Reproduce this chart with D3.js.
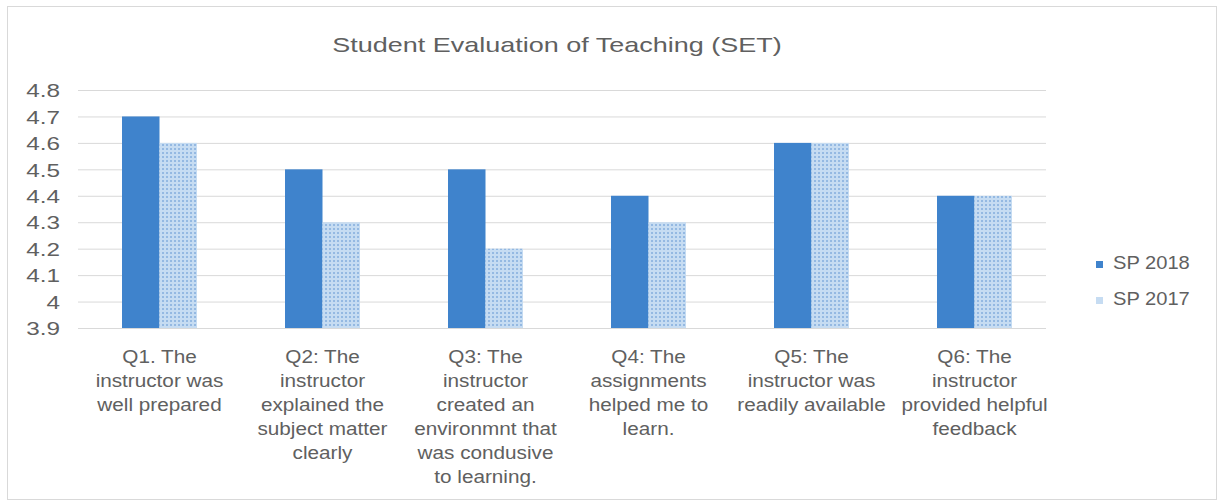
<!DOCTYPE html>
<html>
<head>
<meta charset="utf-8">
<script src="https://cdn.jsdelivr.net/npm/d3@7"></script>
<style>
  body { margin: 0; background: #fff; }
  svg { font-family: "Liberation Sans", Arial, sans-serif; }
</style>
</head>
<body>
<div id="chart"></div>
<script>
const questions = [
  ['Q1. The', 'instructor was', 'well prepared'],
  ['Q2: The', 'instructor', 'explained the', 'subject matter', 'clearly'],
  ['Q3: The', 'instructor', 'created an', 'environmnt that', 'was condusive', 'to learning.'],
  ['Q4: The', 'assignments', 'helped me to', 'learn.'],
  ['Q5: The', 'instructor was', 'readily available'],
  ['Q6: The', 'instructor', 'provided helpful', 'feedback']
]
const sp2018 = [4.7, 4.5, 4.5, 4.4, 4.6, 4.4]
const sp2017 = [4.6, 4.3, 4.2, 4.3, 4.6, 4.4]
const seriesNames = ['SP 2018', 'SP 2017']
const yTicks = [3.9, 4.0, 4.1, 4.2, 4.3, 4.4, 4.5, 4.6, 4.7, 4.8]

const w = 1220, h = 503
const padL = 78, padR = 1056, padT = 90, padB = 328
const textColor = '#606060'

const svg = d3.select('#chart').append('svg')
  .attr('width', w).attr('height', h)

// pattern for the dotted series
const defs = svg.append('defs')
const pat = defs.append('pattern')
  .attr('id', 'dots')
  .attr('width', 4).attr('height', 4)
  .attr('patternUnits', 'userSpaceOnUse')
pat.append('rect').attr('width', 4).attr('height', 4).attr('fill', '#c6dcf2')
pat.append('rect').attr('x', 0).attr('y', 0).attr('width', 2).attr('height', 2).attr('fill', '#94b9e2')

// outer frame
svg.append('rect')
  .attr('x', 7.5).attr('y', 6.5).attr('width', 1209).attr('height', 493)
  .attr('fill', 'none').attr('stroke', '#d9d9d9')

// the source picture is stretched sideways, so text gets a horizontal scale
svg.append('text')
  .attr('transform', 'translate(557,52) scale(1.35,1)')
  .attr('text-anchor', 'middle')
  .attr('font-size', 20)
  .attr('fill', textColor)
  .text('Student Evaluation of Teaching (SET)')

const x = d3.scaleBand()
  .domain(d3.range(questions.length))
  .range([padL, padR])
  .paddingInner(0.54)
  .paddingOuter(0.27)

const x1 = d3.scaleBand()
  .domain(seriesNames)
  .range([0, x.bandwidth()])

const y = d3.scaleLinear().domain([3.9, 4.8]).range([padB, padT])

// gridlines + y labels
const yAxis = d3.axisLeft(y)
  .tickValues(yTicks)
  .tickSize(-(padR - padL - 10))
  .tickPadding(18)
  .tickFormat(d => d3.format('.1f')(d).replace(/\.0$/, ''))

const ya = svg.append('g')
  .attr('transform', `translate(${padL},0)`)
  .call(yAxis)
ya.select('.domain').remove()
ya.selectAll('line').attr('stroke', '#d9d9d9')
ya.selectAll('text')
  .attr('font-size', 18)
  .attr('fill', textColor)
  .attr('x', 0)
  .attr('transform', 'translate(-18,1) scale(1.35,1)')

const colors = { 'SP 2018': '#3f83cc', 'SP 2017': 'url(#dots)' }
const data = questions.map((q, i) => [
  { s: 'SP 2018', v: sp2018[i] },
  { s: 'SP 2017', v: sp2017[i] }
])

svg.append('g').selectAll('g')
  .data(data)
  .enter().append('g')
  .attr('transform', (d, i) => `translate(${x(i)},0)`)
  .selectAll('rect')
  .data(d => d)
  .enter().append('rect')
  .attr('x', d => x1(d.s))
  .attr('width', x1.bandwidth())
  .attr('y', d => y(d.v))
  .attr('height', d => y(3.9) - y(d.v))
  .attr('fill', d => colors[d.s])

// baseline
svg.append('line')
  .attr('x1', padL).attr('x2', padR - 10)
  .attr('y1', padB + 0.5).attr('y2', padB + 0.5)
  .attr('stroke', '#d9d9d9')

// category labels
const lab = svg.append('g').selectAll('text')
  .data(questions)
  .enter().append('text')
  .attr('text-anchor', 'middle')
  .attr('font-size', 18.5)
  .attr('fill', textColor)
  .attr('transform', (d, i) => `translate(${x(i) + x.bandwidth() / 2},${padB + 35}) scale(1.12,1)`)

lab.selectAll('tspan')
  .data(d => d)
  .enter().append('tspan')
  .attr('x', 0)
  .attr('dy', (d, i) => i === 0 ? 0 : 24)
  .text(d => d)

// legend
const lg = svg.append('g').selectAll('g')
  .data(seriesNames)
  .enter().append('g')
  .attr('transform', (d, i) => `translate(1096,${269 + i * 36})`)
lg.append('rect')
  .attr('x', 0).attr('y', -8).attr('width', 7).attr('height', 7)
  .attr('fill', d => d === 'SP 2018' ? '#3f83cc' : '#c6dcf2')
lg.append('text')
  .attr('transform', 'translate(17,0) scale(1.15,1)')
  .attr('font-size', 17.5)
  .attr('fill', textColor)
  .text(d => d)
</script>
</body>
</html>
